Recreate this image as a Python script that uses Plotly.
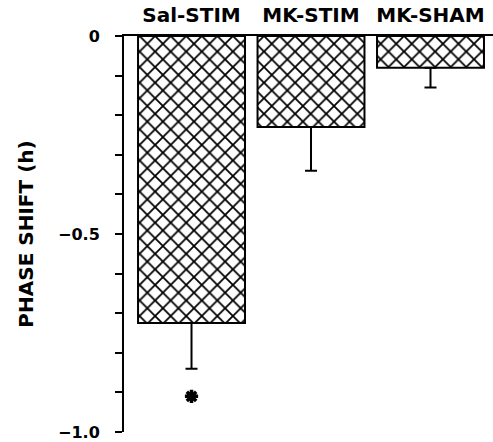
import plotly.graph_objects as go

categories = ["Sal-STIM", "MK-STIM", "MK-SHAM"]
phase_shift = [-0.725, -0.23, -0.08]
sem = [0.115, 0.11, 0.05]
star_cat = ["Sal-STIM"]
star_y = [-0.91]
tick_vals = [0, -0.1, -0.2, -0.3, -0.4, -0.5, -0.6, -0.7, -0.8, -0.9, -1.0]
tick_text = ["0", "", "", "", "", "\u22120.5", "", "", "", "", "\u22121.0"]

FONT = "DejaVu Sans"

fig = go.Figure()
fig.add_trace(go.Bar(
    x=categories, y=phase_shift,
    marker=dict(color="white",
                line=dict(color="black", width=2),
                pattern=dict(shape="x", fgcolor="#000000", bgcolor="#ffffff",
                             fgopacity=1, size=11, solidity=0.3)),
    error_y=dict(type="data", symmetric=False, array=[0, 0, 0], arrayminus=sem,
                 color="black", thickness=2, width=6),
    showlegend=False,
))
fig.add_trace(go.Scatter(
    x=star_cat, y=star_y, mode="markers",
    marker=dict(symbol="asterisk-open", size=11, color="black",
                line=dict(color="black", width=3.5)),
    showlegend=False,
))

fig.update_layout(
    width=493, height=442,
    margin=dict(l=124, r=0, t=36, b=10, autoexpand=False),
    paper_bgcolor="white", plot_bgcolor="white",
    bargap=0.105,
    font=dict(family=FONT, color="black", size=16, weight="bold"),
    xaxis=dict(side="top", range=[-0.565, 2.523], showline=True, linecolor="black",
               linewidth=2, ticks="", showgrid=False, zeroline=False,
               automargin=False,
               tickfont=dict(family=FONT, size=20, weight="bold"),
               ticklabelstandoff=4),
    yaxis=dict(range=[-1.0, 0], showline=True, linecolor="black", linewidth=2,
               ticks="outside", ticklen=7, tickwidth=2, tickcolor="black",
               tickvals=tick_vals, ticktext=tick_text,
               showgrid=False, zeroline=False, automargin=False,
               tickfont=dict(family=FONT, size=16, weight="bold"),
               ticklabelstandoff=12,
               title=dict(text="PHASE SHIFT (h)", standoff=19,
                          font=dict(family=FONT, size=20, weight="bold"))),
)

fig.write_html("out.html", config={"displayModeBar": False},
               post_script="document.body.style.margin='0';document.body.style.padding='0';")
